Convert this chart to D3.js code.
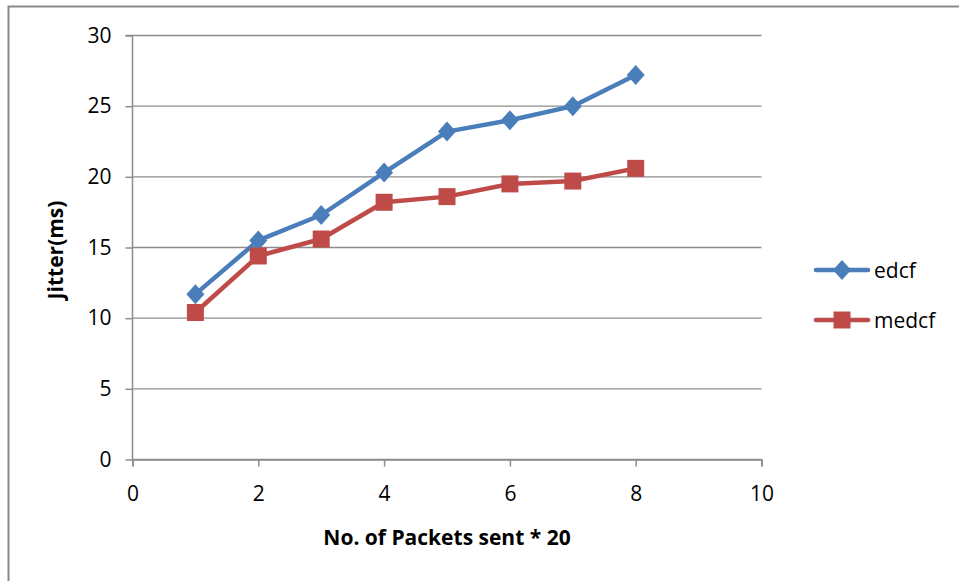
<!DOCTYPE html>
<html><head><meta charset="utf-8">
<script src="https://cdn.jsdelivr.net/npm/d3@7"></script>
<style>body{margin:0;background:#fff}svg{display:block}</style>
</head><body>
<svg id="c" width="959" height="581"></svg>
<script>
const xValues = [1,2,3,4,5,6,7,8];
const edcf = [11.7,15.5,17.3,20.3,23.2,24.0,25.0,27.2];
const medcf = [10.4,14.4,15.6,18.2,18.6,19.5,19.7,20.6];
const xTicks = [0,2,4,6,8,10];
const yTicks = [0,5,10,15,20,25,30];
const seriesNames = ["edcf","medcf"];
const colors = ["#4a7ebb","#be4b48"];

const svg = d3.select("#c");
const font = "Open Sans, Liberation Sans, sans-serif";
const fs = 21;
svg.append("path").attr("d","M8.5,581 V6.5 H959").attr("fill","none").attr("stroke","#8a8a8a").attr("stroke-width",2);

const x = d3.scaleLinear().domain([0,10]).range([132.5,761.5]);
const y = d3.scaleLinear().domain([0,30]).range([459.5,35.5]);

svg.append("g").selectAll("line").data(yTicks).join("line")
  .attr("x1",x(0)).attr("x2",x(10)).attr("y1",d=>y(d)).attr("y2",d=>y(d))
  .attr("stroke","#8c8c8c").attr("stroke-width",1.3);

const yAxis = svg.append("g").attr("transform",`translate(${x(0)},0)`)
  .call(d3.axisLeft(y).tickValues(yTicks).tickSize(7).tickPadding(14));
const xAxis = svg.append("g").attr("transform",`translate(0,${y(0)})`)
  .call(d3.axisBottom(x).tickValues(xTicks).tickSize(7).tickPadding(20));
[yAxis,xAxis].forEach(a=>{
  a.select(".domain").attr("stroke","#8c8c8c").attr("stroke-width",1.5);
  a.selectAll(".tick line").attr("stroke","#8c8c8c").attr("stroke-width",1.5);
  a.selectAll("text").attr("font-family",font).attr("font-size",fs).attr("fill","#000");
});
yAxis.select(".domain").attr("d",`M-7,${y(30)}H0V${y(0)}`);

const diamondPath = "M0,-10L9,0L0,10L-9,0Z";
const square = d3.symbol().type(d3.symbolSquare).size(289);
const line = d3.line().x((d,i)=>x(xValues[i])).y(d=>y(d));

[edcf,medcf].forEach((s,k)=>{
  svg.append("path").datum(s).attr("d",line).attr("fill","none")
    .attr("stroke",colors[k]).attr("stroke-width",4.5).attr("stroke-linejoin","round");
  svg.append("g").selectAll("path").data(s).join("path")
    .attr("transform",(d,i)=>`translate(${x(xValues[i])},${y(d)})`)
    .attr("d",k===0?diamondPath:square)
    .attr("fill",colors[k]);
});

const lg = svg.append("g");
seriesNames.forEach((n,k)=>{
  const ly = 270 + k*50;
  lg.append("line").attr("x1",816).attr("x2",868).attr("y1",ly).attr("y2",ly)
    .attr("stroke",colors[k]).attr("stroke-width",4.5).attr("stroke-linecap","round");
  lg.append("path").attr("transform",`translate(842,${ly})`)
    .attr("d",k===0?diamondPath:square())
    .attr("fill",colors[k]);
  lg.append("text").attr("x",874).attr("y",ly+8).text(n)
    .attr("font-family",font).attr("font-size",fs).attr("fill","#000");
});

svg.append("text").attr("x",447).attr("y",545).attr("text-anchor","middle")
  .attr("font-family",font).attr("font-size",fs).attr("font-weight","bold")
  .text("No. of Packets sent * 20");
svg.append("text").attr("transform","translate(63,250) rotate(-90)").attr("text-anchor","middle")
  .attr("font-family",font).attr("font-size",fs).attr("font-weight","bold")
  .text("Jitter(ms)");
</script>
</body></html>
